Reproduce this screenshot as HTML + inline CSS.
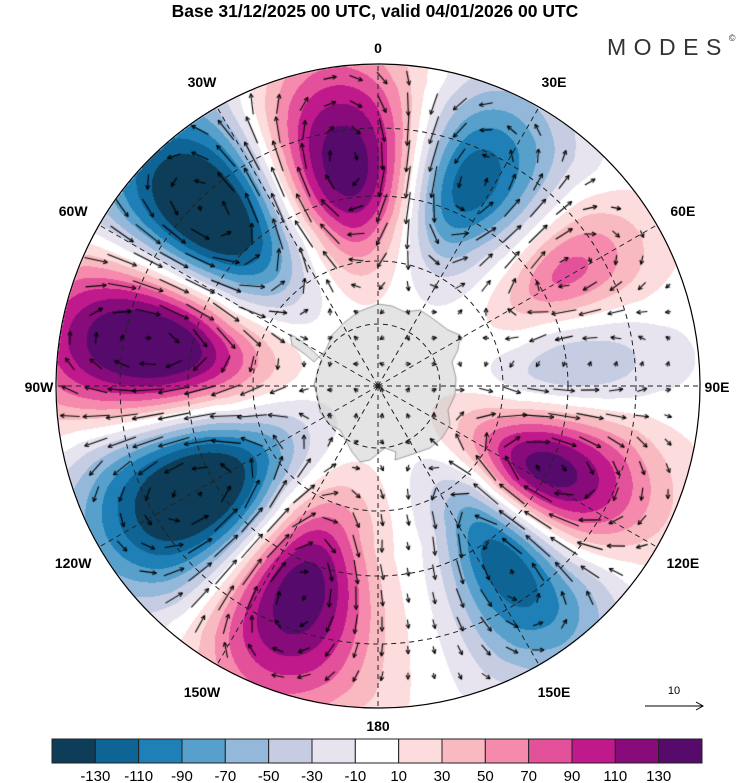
<!DOCTYPE html>
<html><head><meta charset="utf-8">
<style>
body{margin:0;background:#fff;width:750px;height:783px;overflow:hidden;position:relative;font-family:"Liberation Sans",sans-serif}
#title{position:absolute;left:0;top:0;width:750px;text-align:center;font-weight:bold;font-size:17.5px;line-height:22px}
#logo{position:absolute;left:607px;top:33px;font-size:23px;letter-spacing:7.5px;color:#333;font-weight:300}
#logo sup{font-size:9px;letter-spacing:0;vertical-align:14px}
canvas,svg{position:absolute;left:0;top:0}
</style></head><body>
<div id="title">Base 31/12/2025 00 UTC, valid 04/01/2026 00 UTC</div>
<div id="logo">MODES<sup>©</sup></div>
<canvas id="cv" width="750" height="783"></canvas>
<svg id="sv" width="750" height="783"></svg>
<script>
// Lobe data: azimuth (deg, clockwise from top), distance from pole (px), amplitude, radial & tangential spread
const lobeAz  = [-8, 24, 59, 85, 117, 143, 201, 240, 280, 316];
const lobeR   = [225, 225, 222, 200, 190, 222, 222, 210, 232, 245];
const lobeAmp = [148, -128, 76, -48, 146, -138, 148, -172, 168, -175];
const lobeSr  = [68, 62, 50, 58, 62, 70, 70, 74, 76, 74];
const lobeSt  = [54, 48, 34, 34, 44, 44, 52, 54, 52, 54];
const levels = [-130,-110,-90,-70,-50,-30,-10,10,30,50,70,90,110,130];
const colors = ['#0d3d58','#0f6496','#1e80b6','#57a0cb','#94b8da','#c6cde3','#e7e4f0','#ffffff','#fcdcdc','#f9b9c0','#f68aad','#e4519b','#bf198b','#870b7a','#560a6c'];
const lonLabels = ['0','30E','60E','90E','120E','150E','180','150W','120W','90W','60W','30W'];

const CX=378, CY=386, R=322;
const lobes = lobeAz.map((a,i)=>{const t=a*Math.PI/180;return {x:CX+lobeR[i]*Math.sin(t),y:CY-lobeR[i]*Math.cos(t),ux:Math.sin(t),uy:-Math.cos(t),A:lobeAmp[i],sr:lobeSr[i],st:lobeSt[i]};});
function f(x,y){let s=0;for(const L of lobes){const dx=x-L.x,dy=y-L.y;const a=dx*L.ux+dy*L.uy;const b=-dx*L.uy+dy*L.ux;
  const sr=a>0?L.sr*1.2:L.sr; const st=L.st*(1+0.3*Math.max(-1,Math.min(1,a/L.sr)));
  s+=L.A*Math.exp(-(a*a)/(2*sr*sr)-(b*b)/(2*st*st));}return s;}
function bin(v){let k=0;while(k<levels.length&&v>=levels[k])k++;return k;}
function hex(c){return [parseInt(c.substr(1,2),16),parseInt(c.substr(3,2),16),parseInt(c.substr(5,2),16)];}
const rgb=colors.map(hex);
const cv=document.getElementById('cv'),ctx=cv.getContext('2d');
const img=ctx.createImageData(750,783);
for(let y=CY-R;y<=CY+R;y++)for(let x=CX-R;x<=CX+R;x++){const dx=x-CX,dy=y-CY;if(dx*dx+dy*dy>R*R)continue;
  const c=rgb[bin(f(x,y))];const i=(y*750+x)*4;img.data[i]=c[0];img.data[i+1]=c[1];img.data[i+2]=c[2];img.data[i+3]=255;}
ctx.putImageData(img,0,0);
ctx.save();ctx.beginPath();ctx.arc(CX,CY,R,0,7);ctx.clip();
const ant=[[378,304],[392,306],[405,312],[420,310],[432,318],[448,330],[460,335],[458,350],[452,362],[456,378],[455,395],[448,410],[450,425],[442,438],[430,448],[410,455],[395,460],[396,452],[385,448],[370,460],[360,462],[352,452],[340,430],[330,425],[320,412],[318,398],[314,385],[318,370],[322,360],[312,350],[300,340],[290,334],[292,345],[306,355],[314,362],[326,350],[332,335],[345,322],[358,312]];
ctx.beginPath();ant.forEach((p,i)=>i?ctx.lineTo(p[0],p[1]):ctx.moveTo(p[0],p[1]));ctx.closePath();
ctx.fillStyle='rgba(205,205,205,0.55)';ctx.fill();ctx.strokeStyle='#888';ctx.lineWidth=0.8;ctx.stroke();
ctx.strokeStyle='#000';ctx.lineWidth=1.1;
for(let y=CY-R+14;y<CY+R;y+=26)for(let x=CX-R+14;x<CX+R;x+=26){
  const dx=x-CX,dy=y-CY;if(dx*dx+dy*dy>(R-10)*(R-10))continue;
  const e=1;const gx=(f(x+e,y)-f(x-e,y))/2,gy=(f(x,y+e)-f(x,y-e))/2;
  let vx=gy,vy=-gx;const m=Math.hypot(vx,vy);if(m<1e-6)continue;
  const L=Math.max(5,Math.min(32,m*12));vx/=m;vy/=m;
  const x0=x-vx*L/2,y0=y-vy*L/2,x1=x+vx*L/2,y1=y+vy*L/2;
  ctx.beginPath();ctx.moveTo(x0,y0);ctx.lineTo(x1,y1);ctx.stroke();
  const h=4;ctx.beginPath();ctx.moveTo(x1,y1);ctx.lineTo(x1-vx*h-vy*h*0.5,y1-vy*h+vx*h*0.5);ctx.moveTo(x1,y1);ctx.lineTo(x1-vx*h+vy*h*0.5,y1-vy*h-vx*h*0.5);ctx.stroke();
}
ctx.restore();
const NS='http://www.w3.org/2000/svg',sv=document.getElementById('sv');
function mk(t,a,p){const e=document.createElementNS(NS,t);for(const k in a)e.setAttribute(k,a[k]);(p||sv).appendChild(e);return e;}
[62,125,190,258].forEach(r=>{const c=mk('circle',{cx:CX,cy:CY,r:r,fill:'none',stroke:'#222','stroke-width':1,'stroke-dasharray':'5,4'});

});
for(let i=0;i<12;i++){const t=i*30*Math.PI/180;
  const l=mk('line',{x1:CX,y1:CY,x2:CX+R*Math.sin(t),y2:CY-R*Math.cos(t),stroke:'#222','stroke-width':1,'stroke-dasharray':'5,4'});
  
  
  const rr=(i%3==0)?R+17:R+30;
  const tx=mk('text',{x:CX+rr*Math.sin(t),y:CY-rr*Math.cos(t)+6,'text-anchor':'middle','font-size':14,'font-weight':'bold','font-family':'Liberation Sans, sans-serif'});
  tx.textContent=lonLabels[i];
  
  }
const pole=mk('circle',{cx:CX,cy:CY,r:2.5,fill:'#222'});


const bd=mk('circle',{cx:CX,cy:CY,r:R,fill:'none',stroke:'#000','stroke-width':1.2});


const rv=mk('g',{});


mk('line',{x1:645,y1:706,x2:703,y2:706,stroke:'#000','stroke-width':1},rv);
mk('path',{d:'M696,702 L703,706 L696,710',fill:'none',stroke:'#000','stroke-width':1},rv);
const rt=mk('text',{x:674,y:694,'text-anchor':'middle','font-size':11,'font-family':'Liberation Sans, sans-serif'},rv);rt.textContent='10';
const cb=mk('g',{});


const bx=52,bw=650/colors.length;
colors.forEach((c,i)=>{const r=mk('rect',{x:bx+i*bw,y:739,width:bw,height:24,fill:c,stroke:'#222','stroke-width':1},cb);

});
levels.forEach((v,i)=>{const t=mk('text',{x:bx+(i+1)*bw,y:781,'text-anchor':'middle','font-size':15,'font-family':'Liberation Sans, sans-serif'},cb);t.textContent=v;

});
</script>
</body></html>
